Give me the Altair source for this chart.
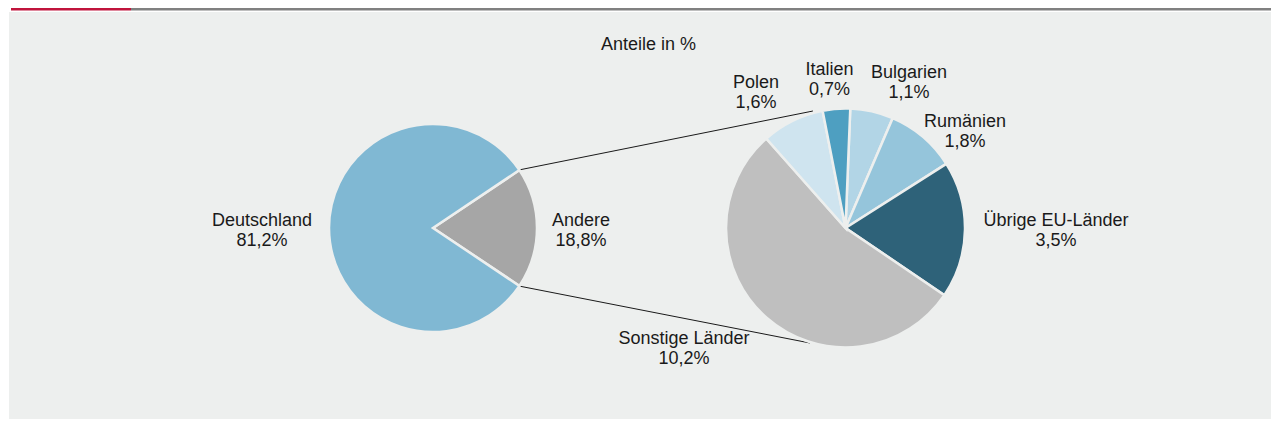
import math
import altair as alt
import pandas as pd

# ---------------- data ----------------
left_names = ["Andere", "Deutschland"]
left_values = [18.8, 81.2]

right_names = ["Bulgarien", "Rumänien", "Übrige EU-Länder", "Sonstige Länder", "Polen", "Italien"]
right_values = [1.1, 1.8, 3.5, 10.2, 1.6, 0.7]

title_text = "Anteile in %"

# ---------------- styling / layout ----------------
all_names = left_names + right_names
palette = ["#a6a6a6", "#80b8d3", "#b2d5e6", "#95c5db", "#2e6279", "#bfbfbf", "#cfe4ef", "#4e9fc1"]
PANEL = "#edefee"
W, H = 1263, 411
FONT = "Liberation Sans"

LC = (425, 220)      # left pie centre
RC = (837.5, 220)    # right pie centre
LR, RR = 104, 119.5

# label anchor (centre x, first baseline y) per category
label_pos = {
    "Deutschland": (254, 218),
    "Andere": (573, 218),
    "Übrige EU-Länder": (1048, 218),
    "Rumänien": (957, 119),
    "Bulgarien": (901, 70),
    "Italien": (821.5, 67),
    "Polen": (748, 80),
    "Sonstige Länder": (676, 336),
}

def fmt(v):
    return f"{v:.1f}%".replace(".", ",")

left_df = pd.DataFrame({"name": left_names, "value": left_values, "ord": range(len(left_names))})
right_df = pd.DataFrame({"name": right_names, "value": right_values, "ord": range(len(right_names))})

lab_rows = []
for n, v in zip(left_names + right_names, left_values + right_values):
    x, y = label_pos[n]
    lab_rows.append({"txt": f"{n}\n{fmt(v)}", "lx": x, "ly": y})
lab_df = pd.DataFrame(lab_rows)

one = pd.DataFrame({"a": [0]})

color_scale = alt.Scale(domain=all_names, range=palette)

# left pie starts so that "Andere" is centred at 3 o'clock
l_start = math.pi / 2 - math.pi * left_values[0] / sum(left_values)
r_start = 0.04

panel = alt.Chart(one).mark_rect(color=PANEL).encode(
    x=alt.value(1), x2=alt.value(W), y=alt.value(4), y2=alt.value(H)
)
bar_red = alt.Chart(one).mark_rect(color="#c0143c").encode(
    x=alt.value(3), x2=alt.value(123), y=alt.value(0), y2=alt.value(2.5)
)
bar_grey = alt.Chart(one).mark_rect(color="#808080").encode(
    x=alt.value(123), x2=alt.value(W), y=alt.value(0), y2=alt.value(2.5)
)

left_pie = alt.Chart(left_df).mark_arc(outerRadius=LR, stroke=PANEL, strokeWidth=2.5).encode(
    theta=alt.Theta("value:Q", stack=True,
                    scale=alt.Scale(range=[l_start, l_start + 2 * math.pi])),
    order=alt.Order("ord:Q"),
    color=alt.Color("name:N", scale=color_scale, legend=None),
    x=alt.value(LC[0]), y=alt.value(LC[1]),
)

right_pie = alt.Chart(right_df).mark_arc(outerRadius=RR, stroke=PANEL, strokeWidth=2.5).encode(
    theta=alt.Theta("value:Q", stack=True,
                    scale=alt.Scale(range=[r_start, r_start + 2 * math.pi])),
    order=alt.Order("ord:Q"),
    color=alt.Color("name:N", scale=color_scale, legend=None),
    x=alt.value(RC[0]), y=alt.value(RC[1]),
)

# connector lines from the "Andere" slice to the detail pie
a_half = math.pi * left_values[0] / sum(left_values)
ex = LC[0] + LR * math.sin(math.pi / 2 - a_half) - 1
ey_top = LC[1] - LR * math.cos(math.pi / 2 - a_half)
ey_bot = LC[1] + LR * math.cos(math.pi / 2 - a_half)
conn_df = pd.DataFrame({
    "x1": [ex, ex], "y1": [ey_top, ey_bot],
    "x2": [805, 802], "y2": [103, 335],
})
connectors = alt.Chart(conn_df).mark_rule(color="#1a1a1a", strokeWidth=1).encode(
    x=alt.X("x1:Q", scale=None), y=alt.Y("y1:Q", scale=None),
    x2="x2:Q", y2="y2:Q",
)

labels = alt.Chart(lab_df).mark_text(
    font=FONT, fontSize=18, color="#1a1a1a", align="center", baseline="alphabetic",
    lineBreak="\n", lineHeight=20,
).encode(
    x=alt.X("lx:Q", scale=None), y=alt.Y("ly:Q", scale=None), text="txt:N"
)

title = alt.Chart(pd.DataFrame({"t": [title_text]})).mark_text(
    font=FONT, fontSize=18, color="#1a1a1a", align="center", baseline="alphabetic",
).encode(x=alt.value(640.5), y=alt.value(42), text="t:N")

chart = alt.layer(
    panel, bar_red, bar_grey, connectors, left_pie, right_pie, labels, title
).resolve_scale(theta="independent").properties(
    width=W, height=H, padding=0, autosize="none", background="white"
).configure_view(strokeWidth=0)

chart.save("out.html", embed_options={"renderer": "svg", "actions": False})
